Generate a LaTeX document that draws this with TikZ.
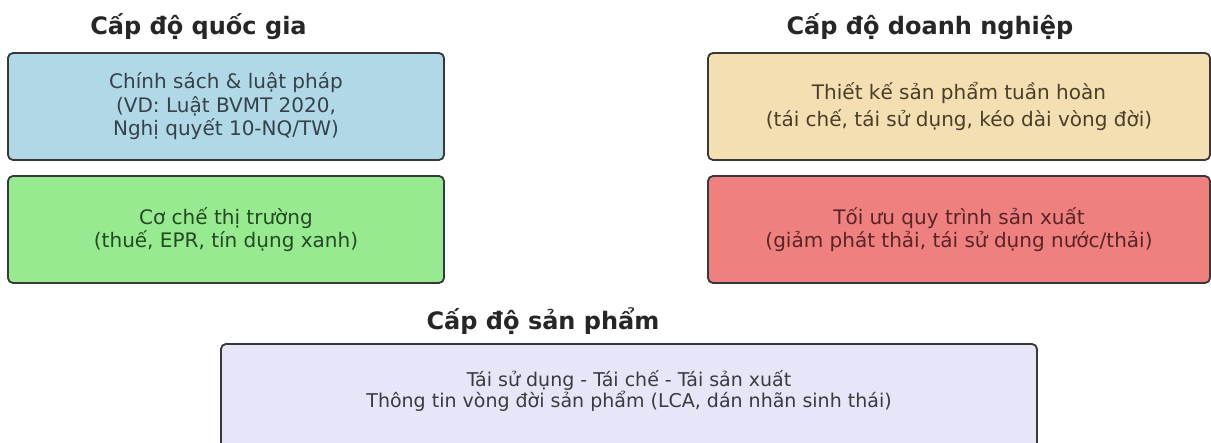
\documentclass[tikz,border=0pt]{standalone}
\usepackage{fontspec}
\setmainfont{DejaVu Sans}
\definecolor{bluefill}{HTML}{B0D8E6}
\definecolor{greenfill}{HTML}{98EA90}
\definecolor{yellowfill}{HTML}{F4DFB2}
\definecolor{redfill}{HTML}{EE8080}
\definecolor{lavfill}{HTML}{E6E6F8}
\definecolor{edgecol}{HTML}{383838}
\definecolor{bluetext}{HTML}{34424C}
\definecolor{greentext}{HTML}{234A22}
\definecolor{yellowtext}{HTML}{4A3E28}
\definecolor{redtext}{HTML}{5A2424}
\definecolor{lavtext}{HTML}{3A3A40}
\tikzset{
  levelbox/.style={draw=edgecol, line width=1.8pt, rounded corners=5pt, align=center,
    inner sep=0pt, font=\fontsize{20}{23.5}\selectfont},
  leveltitle/.style={font=\fontsize{24}{28}\selectfont\bfseries, text=black!85, inner sep=0pt}
}
\begin{document}
\begin{tikzpicture}[x=1pt,y=-1pt]
\useasboundingbox (0,0) rectangle (1211,443);
\clip (0,0) rectangle (1211,443);
\fill[white] (0,0) rectangle (1211,443);
% titles
\node[leveltitle] (tq) at (198.5,27) {Cấp độ quốc gia};
\node[leveltitle] (td) at (930,27) {Cấp độ doanh nghiệp};
\node[leveltitle] (ts) at (543,321) {Cấp độ sản phẩm};
% national level
\node[levelbox, fill=bluefill, text=bluetext, minimum width=436pt, minimum height=107pt]
  (law) at (226,106.5) {Chính sách \& luật pháp\\(VD: Luật BVMT 2020,\\Nghị quyết 10-NQ/TW)};
\node[levelbox, fill=greenfill, text=greentext, minimum width=436pt, minimum height=107pt]
  (market) at (226,229.5) {Cơ chế thị trường\\(thuế, EPR, tín dụng xanh)};
% enterprise level
\node[levelbox, fill=yellowfill, text=yellowtext, minimum width=502pt, minimum height=107pt,
  font=\fontsize{20}{27}\selectfont]
  (design) at (959,106.5) {Thiết kế sản phẩm tuần hoàn\\(tái chế, tái sử dụng, kéo dài vòng đời)};
\node[levelbox, fill=redfill, text=redtext, minimum width=502pt, minimum height=107pt]
  (process) at (959,229.5) {Tối ưu quy trình sản xuất\\(giảm phát thải, tái sử dụng nước/thải)};
% product level
\node[levelbox, fill=lavfill, minimum width=816pt, minimum height=120pt] (prodbox) at (629,404) {};
\node[align=center, text=lavtext, inner sep=0pt, font=\fontsize{19}{20}\selectfont]
  (prodtext) at (629,391) {Tái sử dụng - Tái chế - Tái sản xuất\\Thông tin vòng đời sản phẩm (LCA, dán nhãn sinh thái)};
\end{tikzpicture}
\end{document}
